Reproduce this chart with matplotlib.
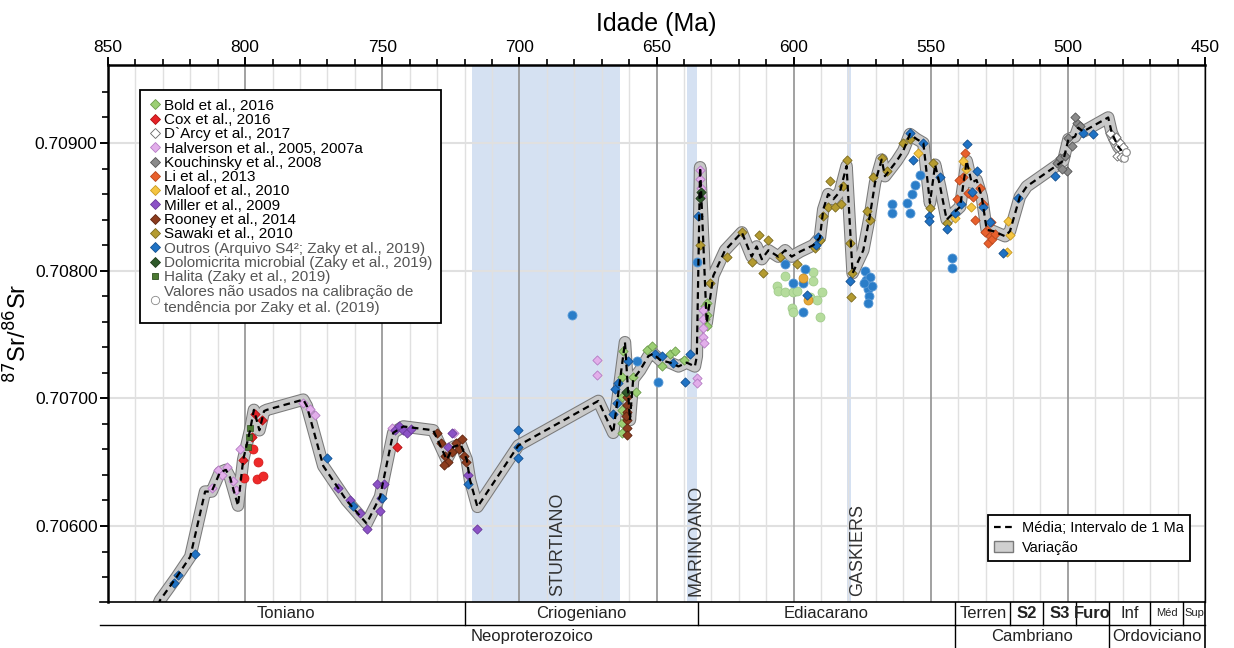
import matplotlib
matplotlib.use("Agg")
import matplotlib.pyplot as plt
import matplotlib.patheffects as pe
from matplotlib.lines import Line2D
from matplotlib.patches import Patch

plt.rcParams['font.family'] = ['Liberation Sans', 'DejaVu Sans']

# ---------------- data ----------------
curve_age = [835, 831, 825, 820, 814.6, 812.2, 809.2, 807, 805.5, 802.6, 800.7, 798.2, 796.8, 794.8,
             793.1, 792.1, 778.8, 777.5, 771.5, 763, 755.7, 750.8, 746, 742.3, 731.4, 726.5, 724.1,
             721.4, 719.2, 718, 715.3, 700.4, 671.2, 665.8, 661.5, 659.7, 658.5, 656, 653, 651.2,
             648.7, 645.1, 642, 639, 636, 635.3, 634.1, 631.7, 629.3, 625, 618.9, 615.3, 613.5, 611.6,
             609.2, 605.6, 603.1, 600.7, 597.6, 592.8, 590.4, 589.2, 587.4, 585.5, 583.1, 580.7, 578.5,
             574.6, 572.2, 570.3, 567.9, 566.7, 562.4, 560, 557.6, 555.1, 552.7, 550.3, 548.4, 546.6,
             544.2, 541.8, 539.3, 536.9, 535.1, 533.3, 531.4, 529.6, 527.2, 522.9, 521.1, 517.5, 515,
             501.7, 499.8, 497.4, 496.2, 494.4, 485.3, 484, 481.6, 480.4]
curve_mean = [0.70522, 0.70542, 0.70560, 0.70576, 0.70627, 0.70627, 0.70642, 0.70644, 0.70638, 0.70616,
              0.70652, 0.70675, 0.70691, 0.70675, 0.70690, 0.70691, 0.70699, 0.70694, 0.70647, 0.70620,
              0.70602, 0.70623, 0.70673, 0.70678, 0.70675, 0.70652, 0.70662, 0.70664, 0.70652, 0.70636,
              0.70615, 0.70663, 0.70698, 0.70673, 0.70744, 0.70683, 0.70715, 0.70722, 0.70733, 0.70735,
              0.70730, 0.70728, 0.70725, 0.70728, 0.70725, 0.70733, 0.70881, 0.70759, 0.70796, 0.70816,
              0.70830, 0.70811, 0.70819, 0.70809, 0.70816, 0.70811, 0.70816, 0.70811, 0.70815, 0.70820,
              0.70826, 0.70848, 0.70860, 0.70856, 0.70862, 0.70882, 0.70798, 0.70816, 0.70843, 0.70869,
              0.70887, 0.70874, 0.70886, 0.70894, 0.70907, 0.70903, 0.70900, 0.70853, 0.70883, 0.70866,
              0.70840, 0.70845, 0.70850, 0.70886, 0.70869, 0.70871, 0.70858, 0.70832, 0.70831, 0.70827,
              0.70831, 0.70858, 0.70866, 0.70886, 0.70903, 0.70905, 0.70912, 0.70909, 0.70920, 0.70908,
              0.70897, 0.70894]

bold_age = [662.7, 662.7, 662.7, 662.7, 662.7, 662.1, 658.5, 657.5, 653.6, 651.8, 648, 645, 643.3, 640,
            632.3, 632.3, 631.7, 631.7, 631.5]
bold_val = [0.70717, 0.70701, 0.70691, 0.70681, 0.70673, 0.70737, 0.70717, 0.70705, 0.70738, 0.70741,
            0.70725, 0.70735, 0.70737, 0.70730, 0.70772, 0.70762, 0.70775, 0.70765, 0.70757]
bold_c_age = [606.2, 603.2, 605.6, 603.2, 600.1, 598.9, 600.7, 600.1, 592.8, 592.8, 594.0, 591.6, 589.8, 590.4]
bold_c_val = [0.70788, 0.70796, 0.70784, 0.70783, 0.70783, 0.70784, 0.70771, 0.70768, 0.70799, 0.70792,
              0.70779, 0.70777, 0.70783, 0.70764]

cox_age = [800.7, 796.4, 794.0, 744.7, 797.5]
cox_val = [0.70652, 0.70688, 0.70683, 0.70662, 0.70670]
cox_c_age = [800.4, 797.0, 795.2, 795.6, 793.6]
cox_c_val = [0.70638, 0.70660, 0.70650, 0.70637, 0.70639]

darcy_age = [484.6, 483.5, 482.5, 481.8, 481.0, 480.3, 479.8, 482.0, 480.8]
darcy_val = [0.70908, 0.70902, 0.70905, 0.70897, 0.70900, 0.70893, 0.70897, 0.70890, 0.70889]

halv_age = [812, 810, 808.5, 806.5, 804.5, 803.5, 801.9, 778.8, 776.3, 774.5, 746.6, 724, 671.8, 671.8,
            635.3, 635.1, 634.1, 634.0, 633.8, 633.6, 633.2, 633.1, 633.0, 632.9, 632.8]
halv_val = [0.70630, 0.70644, 0.70640, 0.70646, 0.70635, 0.70628, 0.70660, 0.70696, 0.70692, 0.70687,
            0.70677, 0.70673, 0.70730, 0.70718, 0.70716, 0.70712, 0.70879, 0.70872, 0.70865, 0.70858,
            0.70769, 0.70762, 0.70755, 0.70748, 0.70743]

kouch_age = [504.1, 502.9, 501.0, 499.8, 498.5, 496.8, 495.6, 497.5, 500.5, 502.0]
kouch_val = [0.70884, 0.70888, 0.70890, 0.70904, 0.70898, 0.70916, 0.70913, 0.70920, 0.70878, 0.70880]

li_age = [537.5, 538.1, 536.3, 534.5, 530.8, 529.6, 533.9, 530.2, 528.3, 529.0, 539.8, 540.5, 527.5,
          526.5, 528.0, 532.0]
li_val = [0.70892, 0.70873, 0.70861, 0.70858, 0.70852, 0.70832, 0.70840, 0.70830, 0.70827, 0.70822,
          0.70871, 0.70856, 0.70825, 0.70829, 0.70838, 0.70865]

maloof_age = [538.1, 537.2, 541.2, 535.5, 521.7, 521.1, 522.3, 554.5]
maloof_val = [0.70886, 0.70880, 0.70841, 0.70850, 0.70839, 0.70828, 0.70815, 0.70892]
maloof_c_age = [596.5, 594.6]
maloof_c_val = [0.70794, 0.70777]

miller_age = [761.8, 755.7, 752.0, 750.5, 751.0, 749.5, 745.5, 744.0, 742.5, 741.0, 739.5, 724.7, 725.9,
              715.3, 718.6, 758.0, 766.0]
miller_val = [0.70620, 0.70598, 0.70633, 0.70622, 0.70612, 0.70633, 0.70675, 0.70678, 0.70675, 0.70673,
              0.70676, 0.70673, 0.70662, 0.70598, 0.70640, 0.70610, 0.70630]

rooney_age = [730, 728.5, 727, 726, 724.5, 723, 722, 721, 720.2, 719.5, 727.5, 660.9, 660.9, 660.9,
              660.9, 660.9, 660.9, 661.2]
rooney_val = [0.70673, 0.70665, 0.70655, 0.70650, 0.70658, 0.70665, 0.70660, 0.70668, 0.70655, 0.70650,
              0.70648, 0.70701, 0.70695, 0.70689, 0.70683, 0.70677, 0.70671, 0.70686]

sawaki_age = [634.1, 624.4, 618.9, 615.3, 612.5, 611.1, 609.2, 605.0, 598.9, 592.2, 590.4, 589.2, 586.7,
              587.4, 585.0, 582.6, 581.9, 580.7, 579.4, 578.8, 579.2, 573.4, 572.2, 570.9, 567.9, 566.0,
              560.0, 557.6, 550.3, 549.1, 544.2, 630.5]
sawaki_val = [0.70820, 0.70811, 0.70830, 0.70807, 0.70828, 0.70798, 0.70824, 0.70811, 0.70805, 0.70818,
              0.70824, 0.70843, 0.70870, 0.70850, 0.70850, 0.70852, 0.70866, 0.70887, 0.70822, 0.70798,
              0.70779, 0.70847, 0.70840, 0.70873, 0.70888, 0.70878, 0.70900, 0.70903, 0.70849, 0.70884,
              0.70837, 0.70790]

outros_age = [826, 824.5, 818.3, 770.3, 760.6, 750.2, 718.6, 700.4, 700.4, 700.4, 665.1, 664.5, 665.8,
              663.9, 660.3, 650.5, 648.1, 643.9, 639.6, 637.8, 634.8, 591.0, 595.3, 579.4, 556.4, 557.6,
              552.7, 546.6, 536.9, 533.3, 523.5, 518.1, 504.7, 494.4, 490.7, 541.0, 539.0, 535.0, 531.0,
              528.5, 544.0, 550.5, 550.5, 592.0]
outros_val = [0.70555, 0.70562, 0.70578, 0.70653, 0.70616, 0.70622, 0.70633, 0.70675, 0.70662, 0.70653,
              0.70707, 0.70696, 0.70688, 0.70712, 0.70729, 0.70735, 0.70733, 0.70728, 0.70713, 0.70735,
              0.70843, 0.70826, 0.70781, 0.70792, 0.70887, 0.70908, 0.70900, 0.70873, 0.70899, 0.70878,
              0.70814, 0.70857, 0.70874, 0.70908, 0.70907, 0.70845, 0.70852, 0.70862, 0.70850, 0.70838,
              0.70833, 0.70843, 0.70839, 0.70820]
outros_c_age = [680.8, 657.2, 649.3, 635.3, 600.1, 596.5, 595.9, 596.5, 603.0, 574.0, 573.5, 573.0,
                572.5, 572.0, 571.5, 574.5, 572.8, 564.0, 564.0, 558.8, 557.6, 555.8, 553.9, 557.0,
                542.4, 542.4]
outros_c_val = [0.70765, 0.70729, 0.70713, 0.70807, 0.70790, 0.70790, 0.70801, 0.70768, 0.70805, 0.70800,
                0.70793, 0.70786, 0.70780, 0.70795, 0.70788, 0.70790, 0.70775, 0.70852, 0.70845, 0.70853,
                0.70845, 0.70867, 0.70875, 0.70860, 0.70810, 0.70802]

dolo_age = [634.1, 633.9, 661.0]
dolo_val = [0.70857, 0.70862, 0.70705]
halita_age = [798.2, 798.5, 799.0]
halita_val = [0.70677, 0.70670, 0.70662]
naousados_age = [479.5, 478.8]
naousados_val = [0.70888, 0.70893]

glaciations = [("STURTIANO", 717.2, 663.3), ("MARINOANO", 638.8, 635.1), ("GASKIERS", 580.4, 579.2)]
glaciation_label_age = [686.0, 635.5, 576.5]
periods = [("Toniano", 850, 720), ("Criogeniano", 720, 635), ("Ediacarano", 635, 541),
           ("Terren", 541, 521), ("S2", 521, 509), ("S3", 509, 497), ("Furo", 497, 485),
           ("Inf", 485, 470), ("Méd", 470, 458), ("Sup", 458, 450)]
eras = [("Neoproterozoico", 850, 541), ("Cambriano", 541, 485), ("Ordoviciano", 485, 450)]

# ---------------- figure ----------------
W, H = 1234, 648
fig = plt.figure(figsize=(W / 100, H / 100), dpi=100)
L, R, T, B = 108, 1205, 65, 602
ax = fig.add_axes([L / W, 1 - B / H, (R - L) / W, (B - T) / H])
ax.set_xlim(850, 450)
ax.set_ylim(0.705405, 0.709611)

# grid
for a in range(850, 449, -10):
    if a % 50 == 0:
        ax.axvline(a, color='#9a9a9a', lw=1.3, zorder=0.5)
    else:
        ax.axvline(a, color='#e0e0e0', lw=1.0, zorder=0.5)
for v in [0.706, 0.707, 0.708, 0.709]:
    ax.axhline(v, color='#e0e0e0', lw=1.5, zorder=0.4)

# glaciation shading
for (name, a0, a1), la in zip(glaciations, glaciation_label_age):
    ax.axvspan(a0, a1, color='#d5e1f2', zorder=0.3, lw=0)
    ax.text(la, 0.70545, name, rotation=90, ha='center', va='bottom',
            fontsize=13, color='#333333', zorder=1)

# band + mean
ax.plot(curve_age, curve_mean, color='#c8c8c8', lw=7.5, zorder=2, solid_joinstyle='round',
        solid_capstyle='butt',
        path_effects=[pe.Stroke(linewidth=9.0, foreground='#7a7a7a', joinstyle='round'), pe.Normal()])

mk = dict(marker='D', s=22, linewidths=0.6, zorder=3)
ax.scatter(bold_c_age, bold_c_val, marker='o', s=42, color='#b5dc9c', edgecolors='#9cc886', linewidths=0.5, zorder=3)
ax.scatter(cox_c_age, cox_c_val, marker='o', s=42, color='#ee2a2a', edgecolors='#d01818', linewidths=0.5, zorder=3)
ax.scatter(outros_c_age, outros_c_val, marker='o', s=42, color='#2a7dc8', edgecolors='#5a9ad6', linewidths=0.6, zorder=3)
ax.scatter(maloof_c_age, maloof_c_val, marker='o', s=42, color='#e6a93a', edgecolors='#c88a20', linewidths=0.5, zorder=3)
ax.scatter(bold_age, bold_val, color='#9ccf74', edgecolors='#6d9c4c', **mk)
ax.scatter(cox_age, cox_val, color='#e52228', edgecolors='#b01010', **mk)
ax.scatter(halv_age, halv_val, color='#e2aeea', edgecolors='#b57cc4', **mk)
ax.scatter(miller_age, miller_val, color='#8c52c6', edgecolors='#6a3a9a', **mk)
ax.scatter(rooney_age, rooney_val, color='#8c3c1e', edgecolors='#5e2410', **mk)
ax.scatter(sawaki_age, sawaki_val, color='#b49b30', edgecolors='#7b6a1e', **mk)
ax.scatter(li_age, li_val, color='#e8602c', edgecolors='#b8461c', **mk)
ax.scatter(maloof_age, maloof_val, color='#f5c542', edgecolors='#c89a20', **mk)
ax.scatter(outros_age, outros_val, color='#1f72c4', edgecolors='#145090', **mk)
ax.scatter(kouch_age, kouch_val, color='#8a8a8a', edgecolors='#555555', **mk)
ax.scatter(darcy_age, darcy_val, color='white', edgecolors='#666666', **mk)
ax.scatter(dolo_age, dolo_val, color='#2f5a2a', edgecolors='#1e3a1a', **mk)
ax.scatter(halita_age, halita_val, marker='s', s=20, color='#4c7a32', edgecolors='#2e5020', linewidths=0.5, zorder=3)
ax.scatter(naousados_age, naousados_val, marker='o', s=30, color='white', edgecolors='#888888', linewidths=0.8, zorder=3)

ax.plot(curve_age, curve_mean, color='black', lw=1.6, dashes=(3, 2), zorder=4)

# axes styling
ax.xaxis.tick_top()
ax.xaxis.set_label_position('top')
ax.set_xticks(range(850, 449, -50))
ax.set_xticks(range(850, 449, -10), minor=True)
ax.set_yticks([0.706, 0.707, 0.708, 0.709])
ax.set_yticklabels(['0.70600', '0.70700', '0.70800', '0.70900'])
ax.set_yticks([0.7056 + 0.0002 * i for i in range(20)], minor=True)
ax.tick_params(axis='both', which='major', labelsize=12.5, length=5.5, width=1.4, direction='out', pad=2)
ax.tick_params(axis='both', which='minor', length=4, width=1.2, direction='out')
ax.tick_params(axis='x', which='both', top=True, bottom=False)
ax.set_xlabel('Idade (Ma)', fontsize=18, labelpad=6)
ax.set_ylabel(r'$^{87}$Sr/$^{86}$Sr', fontsize=17)
ax.yaxis.set_label_coords(-0.070, 0.5)
ax.spines['top'].set_linewidth(1.8)
ax.spines['left'].set_linewidth(1.8)
ax.spines['right'].set_linewidth(1.0)
ax.spines['bottom'].set_visible(False)

# legends
def dm(face, edge, marker='D', ms=5):
    return Line2D([], [], ls='none', marker=marker, markersize=ms, markerfacecolor=face,
                  markeredgecolor=edge, markeredgewidth=0.6)

handles = [dm('#9ccf74', '#6d9c4c'), dm('#e52228', '#b01010'), dm('white', '#666666'),
           dm('#e2aeea', '#b57cc4'), dm('#8a8a8a', '#555555'), dm('#e8602c', '#b8461c'),
           dm('#f5c542', '#c89a20'), dm('#8c52c6', '#6a3a9a'), dm('#8c3c1e', '#5e2410'),
           dm('#b49b30', '#7b6a1e'), dm('#1f72c4', '#145090'), dm('#2f5a2a', '#1e3a1a'),
           dm('#4c7a32', '#2e5020', marker='s', ms=5), dm('white', '#888888', marker='o', ms=6)]
labels = ['Bold et al., 2016', 'Cox et al., 2016', 'D`Arcy et al., 2017',
          'Halverson et al., 2005, 2007a', 'Kouchinsky et al., 2008', 'Li et al., 2013',
          'Maloof et al., 2010', 'Miller et al., 2009', 'Rooney et al., 2014', 'Sawaki et al., 2010',
          'Outros (Arquivo S4²; Zaky et al., 2019)', 'Dolomicrita microbial (Zaky et al., 2019)',
          'Halita (Zaky et al., 2019)', 'Valores não usados na calibração de\ntendência por Zaky et al. (2019)']
leg = ax.legend(handles, labels, loc='upper left', bbox_to_anchor=(0.029, 0.953), borderaxespad=0,
                fontsize=11, labelspacing=0.02, handletextpad=0.15, handlelength=0.9,
                borderpad=0.55, fancybox=False, edgecolor='black', framealpha=1)
leg.get_frame().set_linewidth(1.3)
for t in leg.get_texts()[10:]:
    t.set_color('#555555')
ax.add_artist(leg)

h2 = [Line2D([], [], color='black', lw=1.6, dashes=(3, 2)),
      Patch(facecolor='#d0d0d0', edgecolor='#7a7a7a')]
leg2 = ax.legend(h2, ['Média; Intervalo de 1 Ma', 'Variação'], loc='upper right',
                 bbox_to_anchor=(0.986, 0.162), borderaxespad=0, fontsize=10.5, fancybox=False,
                 edgecolor='black', framealpha=1, handlelength=1.3, handletextpad=0.6, labelspacing=0.4)
leg2.get_frame().set_linewidth(1.3)

# stratigraphic bars
ax2 = fig.add_axes([L / W, 0, (R - L) / W, 1 - B / H])
ax2.set_xlim(850, 450)
ax2.set_ylim(0, 2)
ax2.axis('off')
ax2.plot([853, 450], [2, 2], color='black', lw=1.2, clip_on=False)
ax2.plot([853, 450], [1, 1], color='black', lw=1.0, clip_on=False)
ax2.plot([450, 450], [0, 2], color='black', lw=1.2, clip_on=False)
small = {"Méd": 8, "Sup": 8}
bold = {"S2", "S3", "Furo"}
for name, a0, a1 in periods:
    if a0 != 850:
        ax2.plot([a0, a0], [1, 2], color='black', lw=1.0)
    ax2.text((a0 + a1) / 2, 1.5, name, ha='center', va='center', fontsize=small.get(name, 12),
             fontweight='bold' if name in bold else 'normal', color='#222222')
for name, a0, a1 in eras:
    if a0 != 850:
        ax2.plot([a0, a0], [0, 1], color='black', lw=1.0)
    ax2.text((a0 + a1) / 2, 0.5, name, ha='center', va='center', fontsize=12, color='#222222')

fig.savefig('out.png', dpi=100)
